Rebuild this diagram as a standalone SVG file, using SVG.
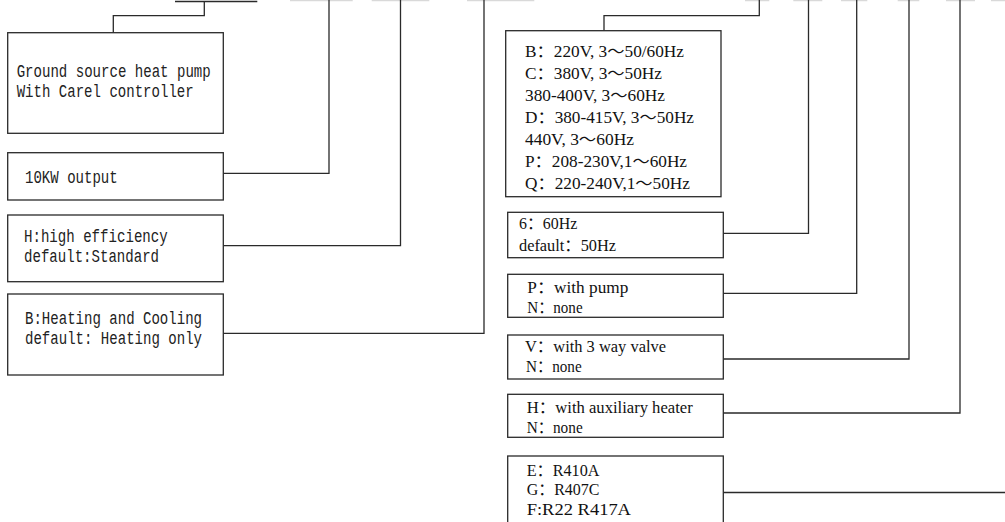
<svg xmlns="http://www.w3.org/2000/svg" width="1005" height="522" viewBox="0 0 1005 522">
<style>
.box{fill:#fff;stroke:#2a2a2a;stroke-width:1.3}
.ln{fill:none;stroke:#2a2a2a;stroke-width:1.3}
.ul{stroke:#d9d9d9;stroke-width:1.5}
.mono{font-family:"Liberation Mono","DejaVu Sans Mono",monospace;font-size:18px;fill:#222}
.ser{font-family:"Liberation Serif","Noto Sans CJK SC",serif;font-size:16px;fill:#111}
</style>
<rect width="1005" height="522" fill="#fff"/>
<g id="top-underlines">
<line class="ul" x1="290" y1="0.5" x2="352.7" y2="0.5"/>
<line class="ul" x1="371.7" y1="0.5" x2="429.3" y2="0.5"/>
<line class="ul" x1="467" y1="0.5" x2="534.3" y2="0.5"/>
<line class="ul" x1="745" y1="0.5" x2="769.3" y2="0.5"/>
<line class="ul" x1="793.3" y1="0.5" x2="822.3" y2="0.5"/>
<line class="ul" x1="841" y1="0.5" x2="867.3" y2="0.5"/>
<line class="ul" x1="897.7" y1="0.5" x2="919.3" y2="0.5"/>
<line class="ul" x1="946" y1="0.5" x2="975" y2="0.5"/>
<line class="ul" x1="991" y1="0.5" x2="1005" y2="0.5"/>
</g>
<g id="connectors">
<path class="ln" d="M175,1.5 H257.3"/>
<path class="ln" d="M204.3,1.5 V15.7 H113.3 V32.7"/>
<path class="ln" d="M223.3,173.3 H329 V0"/>
<path class="ln" d="M223.3,245.7 H400.5 V0"/>
<path class="ln" d="M223.3,333.3 H484 V0"/>
<path class="ln" d="M759.3,0 V15.7 H604 V30.7"/>
<path class="ln" d="M723.3,233.3 H808.5 V0"/>
<path class="ln" d="M723.3,293.3 H856.7 V0"/>
<path class="ln" d="M723.3,359 H909 V0"/>
<path class="ln" d="M723.3,413 H960 V0"/>
<path class="ln" d="M723.3,492.5 H1005"/>
</g>
<g id="n-product">
<rect class="box" x="7.7" y="32.7" width="215.6" height="100.6"/>
<text class="mono" x="16.7" y="77" textLength="194" lengthAdjust="spacingAndGlyphs">Ground source heat pump</text>
<text class="mono" x="16.7" y="96.7" textLength="177" lengthAdjust="spacingAndGlyphs">With Carel controller</text>
</g>
<g id="n-output">
<rect class="box" x="7.7" y="152.7" width="215.6" height="47.3"/>
<text class="mono" x="25" y="183.3" textLength="92.7" lengthAdjust="spacingAndGlyphs">10KW output</text>
</g>
<g id="n-efficiency">
<rect class="box" x="7.7" y="215" width="215.6" height="66.7"/>
<text class="mono" x="24" y="241.7" textLength="143.7" lengthAdjust="spacingAndGlyphs">H:high efficiency</text>
<text class="mono" x="24" y="261.7" textLength="135" lengthAdjust="spacingAndGlyphs">default:Standard</text>
</g>
<g id="n-mode">
<rect class="box" x="7.7" y="294" width="215.6" height="81"/>
<text class="mono" x="25" y="324.3" textLength="177" lengthAdjust="spacingAndGlyphs">B:Heating and Cooling</text>
<text class="mono" x="25" y="343.6" textLength="177" lengthAdjust="spacingAndGlyphs">default: Heating only</text>
</g>
<g id="n-voltage">
<rect class="box" x="505.7" y="30.7" width="215.3" height="166"/>
<text class="ser" x="525" y="57" textLength="159" lengthAdjust="spacingAndGlyphs">B：220V, 3～50/60Hz</text>
<text class="ser" x="525" y="79" textLength="137" lengthAdjust="spacingAndGlyphs">C：380V, 3～50Hz</text>
<text class="ser" x="525" y="101" textLength="140" lengthAdjust="spacingAndGlyphs">380-400V, 3～60Hz</text>
<text class="ser" x="525" y="123" textLength="169" lengthAdjust="spacingAndGlyphs">D：380-415V, 3～50Hz</text>
<text class="ser" x="525" y="145" textLength="109" lengthAdjust="spacingAndGlyphs">440V, 3～60Hz</text>
<text class="ser" x="525" y="167" textLength="162" lengthAdjust="spacingAndGlyphs">P：208-230V,1～60Hz</text>
<text class="ser" x="525" y="189" textLength="165" lengthAdjust="spacingAndGlyphs">Q：220-240V,1～50Hz</text>
</g>
<g id="n-frequency">
<rect class="box" x="507.7" y="212.3" width="215.6" height="45.4"/>
<text class="ser" x="519" y="229.3" textLength="58.3" lengthAdjust="spacingAndGlyphs">6：60Hz</text>
<text class="ser" x="519" y="250.7" textLength="97" lengthAdjust="spacingAndGlyphs">default：50Hz</text>
</g>
<g id="n-pump">
<rect class="box" x="507.7" y="274.3" width="215.6" height="43"/>
<text class="ser" x="527.3" y="293.3" textLength="101" lengthAdjust="spacingAndGlyphs">P：with pump</text>
<text class="ser" x="527.3" y="312.7" textLength="55.3" lengthAdjust="spacingAndGlyphs">N：none</text>
</g>
<g id="n-valve">
<rect class="box" x="507.7" y="335" width="215.6" height="44"/>
<text class="ser" x="525" y="352.3" textLength="141" lengthAdjust="spacingAndGlyphs">V：with 3 way valve</text>
<text class="ser" x="526" y="371.7" textLength="55.7" lengthAdjust="spacingAndGlyphs">N：none</text>
</g>
<g id="n-heater">
<rect class="box" x="507.7" y="394.3" width="215.6" height="43"/>
<text class="ser" x="526.7" y="413" textLength="166" lengthAdjust="spacingAndGlyphs">H：with auxiliary heater</text>
<text class="ser" x="526.7" y="432.5" textLength="56" lengthAdjust="spacingAndGlyphs">N：none</text>
</g>
<g id="n-refrigerant">
<rect class="box" x="507.7" y="456" width="215.6" height="80"/>
<text class="ser" x="526.7" y="475.5" textLength="72.7" lengthAdjust="spacingAndGlyphs">E：R410A</text>
<text class="ser" x="526.7" y="495" textLength="72.7" lengthAdjust="spacingAndGlyphs">G：R407C</text>
<text class="ser" x="526.7" y="514.5" textLength="104.3" lengthAdjust="spacingAndGlyphs">F:R22 R417A</text>
</g>
</svg>
